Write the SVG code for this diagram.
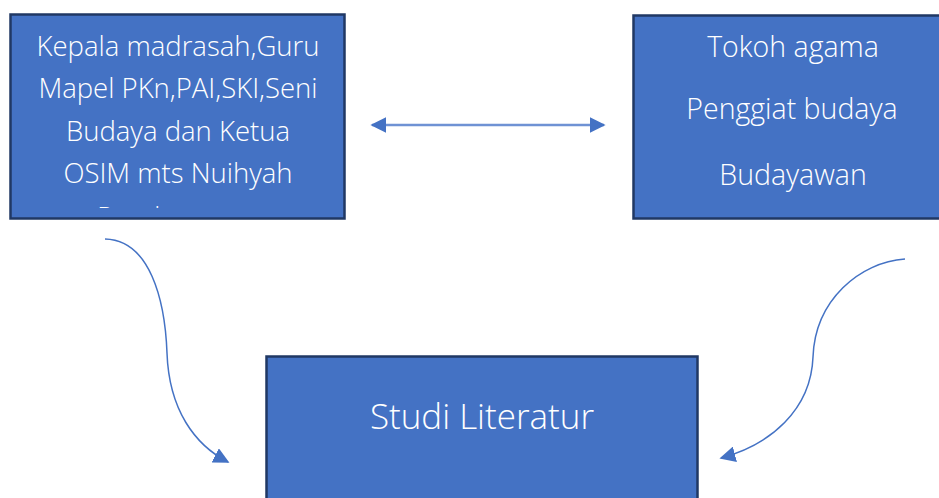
<svg xmlns="http://www.w3.org/2000/svg" width="939" height="498" viewBox="0 0 939 498">
  <style>
    .box { fill: #4472c4; stroke: #203864; stroke-width: 2.5; }
    .t { fill: #ffffff; font-family: "Open Sans", "Noto Sans", "Liberation Sans", sans-serif; font-weight: 300; font-size: 27.5px; text-anchor: middle; }
    .r { font-size: 28.5px; }
    .big { font-size: 35px; }
    .conn { fill: none; stroke: #4472c4; stroke-width: 1.5; }
    .dbl { stroke: #6f92d4; stroke-width: 2.5; }
  </style>
  <defs>
    <marker id="ah" viewBox="0 0 10 10" refX="9" refY="5" markerWidth="16" markerHeight="16" markerUnits="userSpaceOnUse" orient="auto-start-reverse">
      <path d="M0,0 L10,5 L0,10 z" fill="#4472c4"/>
    </marker>
    <clipPath id="clipL">
      <rect x="10" y="14" width="335" height="194"/>
    </clipPath>
  </defs>
  <rect width="939" height="498" fill="#ffffff"/>

  <g id="node-left">
    <rect class="box" x="10.5" y="14.5" width="334" height="204"/>
    <g clip-path="url(#clipL)">
      <text class="t" x="178" y="56">Kepala madrasah,Guru</text>
      <text class="t" x="178" y="98">Mapel PKn,PAI,SKI,Seni</text>
      <text class="t" x="178" y="141">Budaya dan Ketua</text>
      <text class="t" x="178" y="183">OSIM mts Nuihyah</text>
      <text class="t" x="97" y="227" style="text-anchor:start">Pandan</text>
    </g>
  </g>

  <g id="node-right">
    <rect class="box" x="633.5" y="15.5" width="310" height="203"/>
    <text class="t r" x="793" y="57">Tokoh agama</text>
    <text class="t r" x="792" y="119">Penggiat budaya</text>
    <text class="t r" x="793" y="185">Budayawan</text>
  </g>

  <g id="node-bottom">
    <rect class="box" x="266.5" y="356.5" width="431" height="150"/>
    <text class="t big" x="482" y="429">Studi Literatur</text>
  </g>

  <g id="connectors">
    <path class="conn dbl" d="M372,125 L604,125" marker-start="url(#ah)" marker-end="url(#ah)"/>
    <path class="conn" d="M105,239 C150,240 165,300 167,353 C169,410 195,445 228,462" marker-end="url(#ah)"/>
    <path class="conn" d="M905,259 C860,262 815,300 813,357 C811,410 770,445 721,458" marker-end="url(#ah)"/>
  </g>
</svg>
